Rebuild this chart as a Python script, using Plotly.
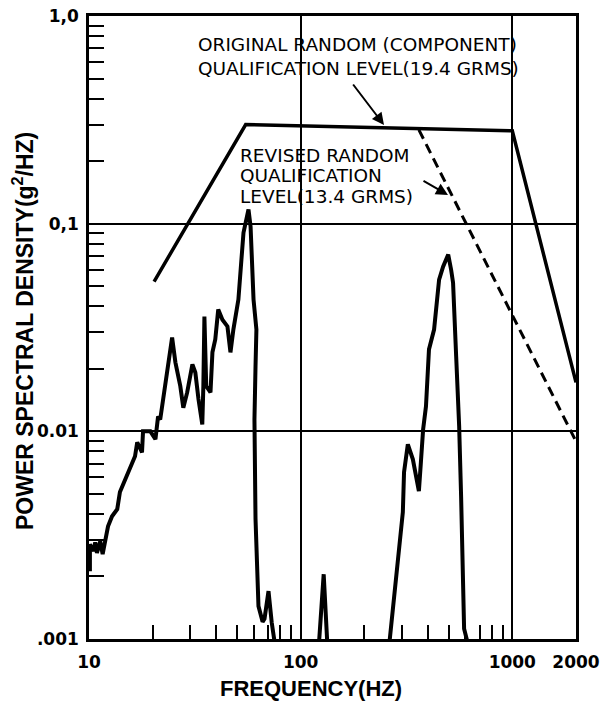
import plotly.graph_objects as go

# ---- data ----
orig_f = [20.3, 55, 1000, 2000]
orig_psd = [0.0526, 0.30, 0.28, 0.0172]

rev_f = [362, 2000]
rev_psd = [0.283, 0.00895]

meas1_f = [10.1, 10.1, 10.45, 10.7, 10.9, 11.3, 11.6, 12.0, 12.3, 12.85, 13.6, 14.0, 14.8,
           15.6, 16.5, 16.9, 17.8, 18.0, 19.5, 20.6, 21.2, 21.7, 22.9, 23.7, 24.7, 25.6,
           27.0, 27.9, 29.1, 30.8, 31.8, 32.9, 34.3, 34.7, 35.1, 35.8, 37.5, 38.3, 39.5,
           40.8, 42.7, 45.1, 46.6, 48.1, 50.8, 52.5, 53.7, 56.7, 58.0, 59.9, 61.8, 61.2,
           60.5, 61.2, 62.5, 63.2, 66.1, 67.5, 70.5, 73.0, 76.1]
meas1_psd = [0.00212, 0.00286, 0.00265, 0.00292, 0.0026, 0.00295, 0.00256, 0.00303, 0.00349,
             0.0039, 0.00422, 0.0051, 0.00588, 0.00657, 0.00758, 0.00886, 0.00792, 0.0100,
             0.0100, 0.00916, 0.0118, 0.0114, 0.0165, 0.0222, 0.0283, 0.0215, 0.0165, 0.0130,
             0.0154, 0.0210, 0.0192, 0.0143, 0.0108, 0.0165, 0.0357, 0.0165, 0.0154, 0.0240,
             0.0277, 0.0386, 0.0345, 0.0320, 0.0240, 0.0309, 0.0431, 0.0671, 0.0905, 0.117,
             0.0968, 0.0431, 0.0309, 0.0205, 0.0114, 0.0038, 0.00217, 0.00144, 0.00121,
             0.00125, 0.0017, 0.0012, 0.0009]

meas2_f = [121.6, 128.5, 134.0]
meas2_psd = [0.0009, 0.00205, 0.0009]

meas3_f = [261, 276, 288, 304, 308, 321, 339, 362, 370, 379, 391, 404, 427, 451, 471, 498,
           514, 525, 543, 561, 573, 586, 592, 625]
meas3_psd = [0.0009, 0.00151, 0.00235, 0.00408, 0.00635, 0.00866, 0.00733, 0.00515, 0.0071,
             0.0102, 0.0132, 0.0248, 0.0309, 0.0538, 0.0621, 0.0710, 0.0600, 0.0520, 0.0230,
             0.01057, 0.00487, 0.00174, 0.00112, 0.0009]

x_ticks = [10, 100, 1000, 2000]
x_ticktext = ["10", "100", "1000", "2000"]
y_ticks = [0.001, 0.01, 0.1, 1.0]
y_ticktext = [".001", "0.01", "0,1", "1,0"]
x_minor = [20, 30, 40, 50, 60, 70, 80, 90, 200, 300, 400, 500, 600, 700, 800, 900]
y_minor = [m * d for d in (0.001, 0.01, 0.1) for m in range(2, 10)]

FONT = "DejaVu Sans"
TITLE_FONT = "Liberation Sans"

fig = go.Figure()
fig.add_trace(go.Scatter(x=orig_f, y=orig_psd, mode="lines",
                         line=dict(color="black", width=3.5)))
fig.add_trace(go.Scatter(x=rev_f, y=rev_psd, mode="lines",
                         line=dict(color="black", width=3, dash="10px,6px")))
for fx, fy in ((meas1_f, meas1_psd), (meas2_f, meas2_psd), (meas3_f, meas3_psd)):
    fig.add_trace(go.Scatter(x=fx, y=fy, mode="lines",
                             line=dict(color="black", width=4)))

fig.update_layout(
    width=603, height=701,
    margin=dict(l=89, r=27, t=16, b=62),
    paper_bgcolor="white", plot_bgcolor="white",
    showlegend=False,
    font=dict(family=FONT, color="black", size=17),
)
fig.update_xaxes(
    type="log", range=[1, 3.30103], automargin=False,
    tickmode="array", tickvals=x_ticks, ticktext=x_ticktext,
    ticks="", showgrid=True, gridcolor="black", gridwidth=1.5,
    showline=True, linecolor="black", linewidth=2.5, mirror=True,
    tickfont=dict(family=FONT, size=17, color="black", weight="bold"),
    ticklabelstandoff=6,
    minor=dict(tickmode="array", tickvals=x_minor, ticks="inside", ticklen=14,
               tickwidth=2, tickcolor="black", showgrid=False),
    zeroline=False,
)
fig.update_yaxes(
    type="log", range=[-3, 0], automargin=False,
    tickmode="array", tickvals=y_ticks, ticktext=y_ticktext,
    ticks="", showgrid=True, gridcolor="black", gridwidth=1.5,
    showline=True, linecolor="black", linewidth=2.5, mirror=True,
    tickfont=dict(family=FONT, size=17, color="black", weight="bold"),
    ticklabelstandoff=4,
    minor=dict(tickmode="array", tickvals=y_minor, ticks="inside", ticklen=15,
               tickwidth=2, tickcolor="black", showgrid=False),
    zeroline=False,
)

def px2paper(px, py):
    return (px - 89) / 487.0, 1 - (py - 16) / 623.0

# axis titles
xp, yp = px2paper(311, 688)
fig.add_annotation(text="FREQUENCY(HZ)", x=xp, y=yp, xref="paper", yref="paper",
                   xanchor="center", yanchor="middle", showarrow=False,
                   font=dict(family=TITLE_FONT, size=22, color="black", weight="bold"))
xp, yp = px2paper(23, 331)
fig.add_annotation(text="POWER SPECTRAL DENSITY(g<sup>2</sup>/HZ)", x=xp, y=yp,
                   xref="paper", yref="paper", textangle=-90,
                   xanchor="center", yanchor="middle", showarrow=False,
                   font=dict(family=TITLE_FONT, size=23, color="black", weight="bold"))

ann_font = dict(family=FONT, size=18.5, color="black")
texts = [
    ("ORIGINAL RANDOM (COMPONENT)", 196, 45),
    ("QUALIFICATION LEVEL(19.4 GRMS)", 196, 68),
    ("REVISED RANDOM", 238, 155),
    ("QUALIFICATION", 238, 176),
    ("LEVEL(13.4 GRMS)", 238, 197),
]
for t, px, py in texts:
    xp, yp = px2paper(px, py)
    fig.add_annotation(text=t, x=xp, y=yp, xref="paper", yref="paper",
                       xanchor="left", yanchor="middle", showarrow=False, font=ann_font)

for (hx, hy, tx, ty) in [(384, 125, 352, 83), (448, 195, 422, 180)]:
    xp, yp = px2paper(hx, hy)
    fig.add_annotation(text="", x=xp, y=yp, xref="paper", yref="paper",
                       ax=tx - hx, ay=ty - hy, showarrow=True, arrowhead=2,
                       arrowsize=1.2, arrowwidth=2, arrowcolor="black")

fig.write_html("out.html", config={"displayModeBar": False},
               post_script="document.body.style.margin='0';document.body.style.overflow='hidden';")
